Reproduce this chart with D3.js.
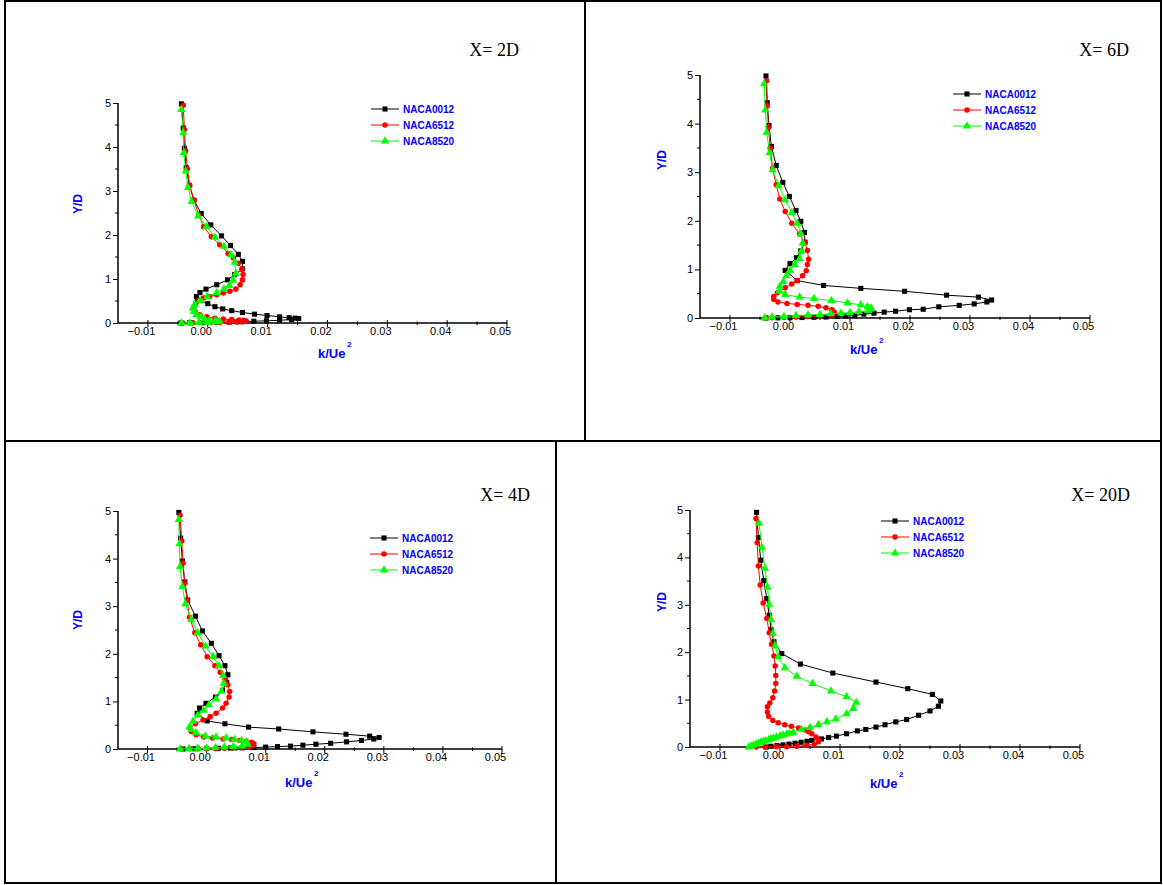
<!DOCTYPE html>
<html>
<head>
<meta charset="utf-8">
<script src="https://cdn.jsdelivr.net/npm/d3@7"></script>
<style>
body{margin:0;background:#fff;}
svg{display:block;}
</style>
</head>
<body>
<div id="canvas"></div>
<script>
// series names and axis ticks
var seriesNames = ["NACA0012", "NACA6512", "NACA8520"];
var xTicks = [-0.01, 0.00, 0.01, 0.02, 0.03, 0.04, 0.05];
var xMinorTicks = [-0.005, 0.005, 0.015, 0.025, 0.035, 0.045];
var yTicks = [0, 1, 2, 3, 4, 5];
var yMinorTicks = [0.5, 1.5, 2.5, 3.5, 4.5];
var titles = ["X= 2D", "X= 6D", "X= 4D", "X= 20D"];

// X = 2D  [k/Ue^2, Y/D]
var k2_0012 = [[-0.0045,0.00],[-0.0030,0.005],[-0.0008,0.01],[0.0015,0.015],[0.0036,0.02],[0.0056,0.03],[0.0077,0.04],[0.0098,0.05],[0.0120,0.06],[0.0140,0.08],[0.0152,0.10],[0.0146,0.11],[0.0136,0.12],[0.0120,0.14],[0.0099,0.17],[0.0078,0.20],[0.0058,0.24],[0.0040,0.28],[0.0025,0.32],[0.0012,0.37],[0.0000,0.44],[-0.0017,0.52],[-0.0019,0.60],[-0.0013,0.69],[-0.0003,0.77],[0.0015,0.87],[0.0033,0.98],[0.0045,1.10],[0.0058,1.23],[0.0058,1.40],[0.0051,1.56],[0.0038,1.76],[0.0023,1.98],[0.0005,2.23],[-0.0011,2.49],[-0.0023,2.79],[-0.0031,3.13],[-0.0036,3.53],[-0.0039,3.97],[-0.0041,4.43],[-0.0044,4.98]];
var k2_6512 = [[-0.0042,0.00],[-0.0025,0.003],[-0.0010,0.006],[0.0005,0.01],[0.0020,0.013],[0.0035,0.017],[0.0048,0.022],[0.0058,0.03],[0.0064,0.045],[0.0060,0.06],[0.0052,0.07],[0.0040,0.08],[0.0026,0.09],[0.0012,0.11],[-0.0002,0.14],[-0.0013,0.19],[-0.0021,0.26],[-0.0024,0.33],[-0.0023,0.38],[-0.0020,0.45],[-0.0015,0.51],[-0.0007,0.57],[0.0003,0.60],[0.0015,0.64],[0.0026,0.68],[0.0037,0.72],[0.0047,0.77],[0.0054,0.87],[0.0058,0.98],[0.0059,1.10],[0.0057,1.22],[0.0051,1.36],[0.0043,1.48],[0.0034,1.58],[0.0020,1.78],[0.0006,1.96],[-0.0007,2.19],[-0.0015,2.45],[-0.0023,2.79],[-0.0030,3.12],[-0.0034,3.50],[-0.0037,3.91],[-0.0039,4.40],[-0.0041,4.95]];
var k2_8520 = [[-0.0044,0.00],[-0.0030,0.005],[-0.0015,0.01],[0.0000,0.015],[0.0012,0.02],[0.0020,0.03],[0.0016,0.04],[0.0012,0.05],[0.0003,0.06],[-0.0005,0.09],[-0.0012,0.14],[-0.0019,0.19],[-0.0023,0.26],[-0.0025,0.34],[-0.0022,0.42],[-0.0013,0.51],[-0.0001,0.60],[0.0015,0.69],[0.0027,0.77],[0.0036,0.85],[0.0042,0.97],[0.0047,1.13],[0.0045,1.38],[0.0039,1.55],[0.0027,1.74],[0.0012,1.95],[-0.0002,2.19],[-0.0016,2.43],[-0.0027,2.76],[-0.0033,3.08],[-0.0037,3.45],[-0.0040,3.87],[-0.0041,4.32],[-0.0044,4.85]];

// X = 6D
var k6_0012 = [[-0.0040,0.00],[-0.0020,0.003],[0.0000,0.006],[0.0020,0.01],[0.0040,0.015],[0.0060,0.02],[0.0079,0.03],[0.0093,0.04],[0.0108,0.05],[0.0123,0.08],[0.0140,0.10],[0.0157,0.12],[0.0176,0.14],[0.0199,0.17],[0.0222,0.18],[0.0248,0.23],[0.0282,0.26],[0.0307,0.29],[0.0328,0.33],[0.0336,0.37],[0.0314,0.43],[0.0261,0.47],[0.0191,0.55],[0.0118,0.61],[0.0056,0.67],[0.0012,0.77],[-0.0008,0.98],[0.0000,1.12],[0.0011,1.24],[0.0018,1.38],[0.0025,1.56],[0.0024,1.76],[0.0018,1.99],[0.0010,2.21],[-0.0001,2.50],[-0.0012,2.79],[-0.0023,3.14],[-0.0031,3.53],[-0.0035,3.96],[-0.0038,4.43],[-0.0040,4.98]];
var k6_6512 = [[-0.0040,0.00],[-0.0030,0.005],[-0.0010,0.01],[0.0010,0.02],[0.0030,0.03],[0.0050,0.04],[0.0070,0.07],[0.0074,0.12],[0.0070,0.17],[0.0060,0.21],[0.0047,0.24],[0.0030,0.26],[0.0012,0.28],[-0.0005,0.30],[-0.0020,0.33],[-0.0027,0.38],[-0.0027,0.44],[-0.0021,0.52],[-0.0008,0.62],[0.0003,0.70],[0.0012,0.77],[0.0021,0.87],[0.0027,0.97],[0.0029,1.10],[0.0031,1.21],[0.0029,1.39],[0.0025,1.55],[0.0016,1.73],[0.0003,1.95],[-0.0008,2.19],[-0.0017,2.45],[-0.0023,2.74],[-0.0029,3.08],[-0.0033,3.49],[-0.0036,3.92],[-0.0038,4.36],[-0.0039,4.88]];
var k6_8520 = [[-0.0042,0.00],[-0.0030,0.02],[-0.0010,0.03],[0.0010,0.05],[0.0030,0.06],[0.0050,0.07],[0.0068,0.09],[0.0085,0.10],[0.0100,0.11],[0.0115,0.13],[0.0130,0.15],[0.0134,0.18],[0.0135,0.21],[0.0129,0.23],[0.0118,0.27],[0.0096,0.31],[0.0069,0.36],[0.0040,0.40],[0.0016,0.43],[-0.0008,0.48],[-0.0018,0.55],[-0.0017,0.65],[-0.0011,0.75],[-0.0006,0.87],[0.0000,0.98],[0.0008,1.10],[0.0016,1.22],[0.0019,1.37],[0.0021,1.54],[0.0018,1.73],[0.0012,1.95],[0.0003,2.17],[-0.0008,2.43],[-0.0019,2.72],[-0.0029,3.05],[-0.0034,3.40],[-0.0039,3.82],[-0.0041,4.28],[-0.0043,4.82]];

// X = 4D
var k4_0012 = [[-0.0040,0.00],[-0.0020,0.005],[0.0000,0.01],[0.0020,0.015],[0.0040,0.02],[0.0060,0.025],[0.0080,0.03],[0.0100,0.04],[0.0120,0.05],[0.0142,0.06],[0.0163,0.08],[0.0185,0.10],[0.0210,0.12],[0.0237,0.15],[0.0262,0.18],[0.0283,0.21],[0.0292,0.24],[0.0276,0.27],[0.0236,0.31],[0.0180,0.36],[0.0122,0.42],[0.0071,0.46],[0.0031,0.53],[0.0001,0.59],[-0.0016,0.75],[-0.0012,0.86],[-0.0001,0.96],[0.0015,1.09],[0.0027,1.23],[0.0034,1.40],[0.0036,1.56],[0.0031,1.75],[0.0021,1.96],[0.0008,2.22],[-0.0007,2.48],[-0.0019,2.79],[-0.0032,3.13],[-0.0037,3.51],[-0.0041,3.95],[-0.0044,4.43],[-0.0047,4.97]];
var k4_6512 = [[-0.0042,0.00],[-0.0028,0.003],[-0.0014,0.005],[0.0000,0.008],[0.0015,0.01],[0.0030,0.015],[0.0045,0.02],[0.0060,0.03],[0.0072,0.045],[0.0079,0.07],[0.0080,0.11],[0.0076,0.14],[0.0067,0.16],[0.0056,0.18],[0.0042,0.20],[0.0028,0.21],[0.0010,0.23],[-0.0005,0.25],[-0.0018,0.30],[-0.0026,0.37],[-0.0028,0.44],[-0.0019,0.53],[-0.0006,0.61],[0.0006,0.68],[0.0016,0.75],[0.0027,0.86],[0.0033,0.96],[0.0038,1.09],[0.0039,1.21],[0.0036,1.35],[0.0031,1.47],[0.0023,1.61],[0.0014,1.75],[0.0001,1.94],[-0.0010,2.19],[-0.0020,2.44],[-0.0029,2.77],[-0.0033,3.12],[-0.0037,3.48],[-0.0040,3.90],[-0.0042,4.37],[-0.0045,4.91]];
var k4_8520 = [[-0.0045,0.00],[-0.0030,0.01],[-0.0015,0.015],[0.0000,0.02],[0.0015,0.03],[0.0030,0.04],[0.0045,0.05],[0.0060,0.06],[0.0070,0.10],[0.0067,0.15],[0.0059,0.18],[0.0047,0.20],[0.0033,0.23],[0.0016,0.25],[-0.0002,0.27],[-0.0018,0.34],[-0.0026,0.41],[-0.0029,0.46],[-0.0023,0.58],[-0.0015,0.71],[-0.0005,0.81],[0.0004,0.93],[0.0016,1.05],[0.0025,1.21],[0.0029,1.38],[0.0028,1.54],[0.0021,1.75],[0.0011,1.94],[-0.0002,2.16],[-0.0015,2.44],[-0.0026,2.72],[-0.0036,3.05],[-0.0041,3.41],[-0.0045,3.83],[-0.0046,4.31],[-0.0047,4.82]];

// X = 20D
var k20_0012 = [[-0.0023,0.00],[-0.0015,0.015],[-0.0005,0.03],[0.0005,0.045],[0.0015,0.06],[0.0025,0.08],[0.0035,0.10],[0.0045,0.12],[0.0053,0.14],[0.0069,0.17],[0.0081,0.20],[0.0094,0.23],[0.0111,0.28],[0.0129,0.34],[0.0143,0.37],[0.0160,0.42],[0.0175,0.47],[0.0193,0.53],[0.0211,0.58],[0.0231,0.67],[0.0250,0.76],[0.0264,0.86],[0.0268,0.97],[0.0254,1.11],[0.0213,1.23],[0.0160,1.37],[0.0088,1.56],[0.0034,1.75],[0.0003,1.97],[-0.0010,2.22],[-0.0015,2.48],[-0.0018,2.78],[-0.0022,3.13],[-0.0027,3.51],[-0.0032,3.94],[-0.0036,4.42],[-0.0039,4.95]];
var k20_6512 = [[-0.0040,0.00],[-0.0025,0.002],[-0.0006,0.004],[0.0011,0.007],[0.0028,0.014],[0.0044,0.035],[0.0057,0.06],[0.0064,0.11],[0.0064,0.15],[0.0060,0.21],[0.0053,0.28],[0.0048,0.32],[0.0042,0.36],[0.0031,0.40],[0.0019,0.44],[0.0008,0.47],[-0.0003,0.51],[-0.0012,0.56],[-0.0019,0.65],[-0.0021,0.74],[-0.0021,0.85],[-0.0017,0.93],[-0.0012,1.04],[-0.0009,1.18],[-0.0007,1.34],[-0.0007,1.51],[-0.0008,1.71],[-0.0010,1.92],[-0.0014,2.17],[-0.0018,2.41],[-0.0022,2.71],[-0.0028,3.04],[-0.0033,3.42],[-0.0036,3.82],[-0.0038,4.31],[-0.0040,4.82]];
var k20_8520 = [[-0.0052,0.00],[-0.0048,0.02],[-0.0044,0.04],[-0.0040,0.06],[-0.0036,0.08],[-0.0032,0.10],[-0.0028,0.12],[-0.0024,0.13],[-0.0019,0.15],[-0.0015,0.17],[-0.0011,0.19],[-0.0006,0.21],[0.0000,0.23],[0.0005,0.25],[0.0011,0.27],[0.0016,0.29],[0.0022,0.31],[0.0036,0.37],[0.0050,0.41],[0.0064,0.47],[0.0078,0.53],[0.0093,0.59],[0.0111,0.70],[0.0122,0.81],[0.0127,0.94],[0.0111,1.06],[0.0085,1.18],[0.0054,1.34],[0.0028,1.49],[0.0008,1.67],[-0.0003,1.90],[-0.0008,2.13],[-0.0012,2.39],[-0.0015,2.69],[-0.0018,3.01],[-0.0021,3.37],[-0.0025,3.77],[-0.0030,4.21],[-0.0035,4.72]];

var colors = ["#000000", "#ff0000", "#00ff00"];
var markers = [d3.symbolSquare, d3.symbolCircle, d3.symbolTriangle];
var markerSize = [26, 24, 30];

// layout of the four cells (pixels)
var panels = [
	{data:[k2_0012,k2_6512,k2_8520], title:titles[0], tx:519, ty:56, x0:118, x1:507, y0:323, y1:103, ylx:78, yly:204, klx:318, kly:358, lgx:371, lgy:109},
	{data:[k6_0012,k6_6512,k6_8520], title:titles[1], tx:1129, ty:56, x0:700, x1:1090, y0:318, y1:75, ylx:662, yly:160, klx:850, kly:354, lgx:953, lgy:94},
	{data:[k4_0012,k4_6512,k4_8520], title:titles[2], tx:530, ty:501, x0:118, x1:502, y0:749, y1:511, ylx:78, yly:620, klx:285, kly:787, lgx:370, lgy:538},
	{data:[k20_0012,k20_6512,k20_8520], title:titles[3], tx:1130, ty:501, x0:690, x1:1080, y0:747, y1:510, ylx:662, yly:602, klx:870, kly:788, lgx:881, lgy:521}
];

var svg = d3.select("#canvas").append("svg")
	.attr("width", 1163)
	.attr("height", 885);

// table borders
var borders = svg.append("g").attr("stroke", "#000").attr("stroke-width", 2);
borders.append("rect").attr("x", 5).attr("y", 1).attr("width", 1156).attr("height", 882).attr("fill", "none");
borders.append("line").attr("x1", 5).attr("x2", 1161).attr("y1", 441).attr("y2", 441);
borders.append("line").attr("x1", 585).attr("x2", 585).attr("y1", 1).attr("y2", 441);
borders.append("line").attr("x1", 556).attr("x2", 556).attr("y1", 441).attr("y2", 883);

panels.forEach(function(p){
	var x = d3.scaleLinear().domain([-0.015, 0.05]).range([p.x0, p.x1]);
	var y = d3.scaleLinear().domain([0, 5]).range([p.y0, p.y1]);
	var g = svg.append("g");

	// x axis
	var xa = g.append("g").attr("transform", "translate(0," + p.y0 + ")")
		.call(d3.axisBottom(x).tickValues(xTicks).tickFormat(d3.format(".2f")).tickSize(0).tickPadding(0));
	xa.select(".domain").remove();
	xa.selectAll(".tick text").attr("dy", "1.05em").attr("dx", -7)
		.style("font-family", "Arial, 'Liberation Sans', sans-serif").style("font-size", "11px").attr("fill", "#000");
	g.append("line").attr("x1", p.x0).attr("x2", p.x1).attr("y1", p.y0).attr("y2", p.y0)
		.attr("stroke", "#000").attr("stroke-width", 1.5);
	g.selectAll(".xmaj").data(xTicks).enter().append("line")
		.attr("x1", function(d){ return x(d); }).attr("x2", function(d){ return x(d); })
		.attr("y1", p.y0 - 3).attr("y2", p.y0 + 4)
		.attr("stroke", "#000").attr("stroke-width", 1);
	g.selectAll(".xmin").data(xMinorTicks).enter().append("line")
		.attr("x1", function(d){ return x(d); }).attr("x2", function(d){ return x(d); })
		.attr("y1", p.y0 - 1.5).attr("y2", p.y0 + 2)
		.attr("stroke", "#000").attr("stroke-width", 1);

	// y axis
	var ya = g.append("g").attr("transform", "translate(" + p.x0 + ",0)")
		.call(d3.axisLeft(y).tickValues(yTicks).tickFormat(d3.format("d")).tickSize(5).tickPadding(2));
	ya.select(".domain").remove();
	ya.selectAll(".tick line").attr("stroke", "#000");
	ya.selectAll(".tick text")
		.style("font-family", "Arial, 'Liberation Sans', sans-serif").style("font-size", "11px").attr("fill", "#000");
	g.append("line").attr("x1", p.x0).attr("x2", p.x0).attr("y1", p.y0).attr("y2", p.y1)
		.attr("stroke", "#000").attr("stroke-width", 1.5);
	g.selectAll(".ymin").data(yMinorTicks).enter().append("line")
		.attr("x1", p.x0 - 3).attr("x2", p.x0)
		.attr("y1", function(d){ return y(d); }).attr("y2", function(d){ return y(d); })
		.attr("stroke", "#000").attr("stroke-width", 1);

	// axis titles
	g.append("text").attr("transform", "translate(" + p.ylx + "," + p.yly + ") rotate(-90)")
		.attr("text-anchor", "middle").attr("dy", "0.35em")
		.style("font-family", "Arial, 'Liberation Sans', sans-serif").style("font-size", "12px").style("font-weight", "bold")
		.attr("fill", "#0000ff").text("Y/D");
	g.append("text").attr("x", p.klx).attr("y", p.kly)
		.style("font-family", "Arial, 'Liberation Sans', sans-serif").style("font-size", "13px").style("font-weight", "bold")
		.attr("fill", "#0000ff").text("k/Ue");
	g.append("text").attr("x", p.klx + 29).attr("y", p.kly - 11)
		.style("font-family", "Arial, 'Liberation Sans', sans-serif").style("font-size", "8px").style("font-weight", "bold")
		.attr("fill", "#0000ff").text("2");

	// panel title
	g.append("text").attr("x", p.tx).attr("y", p.ty).attr("text-anchor", "end")
		.style("font-family", "'Liberation Serif', 'Times New Roman', serif").style("font-size", "18px")
		.attr("fill", "#000").text(p.title);

	// series
	var line = d3.line().x(function(d){ return x(d[0]); }).y(function(d){ return y(d[1]); });
	p.data.forEach(function(s, i){
		g.append("path").datum(s).attr("d", line)
			.attr("fill", "none").attr("stroke", colors[i]).attr("stroke-width", 1);
		g.selectAll(".m" + i).data(s).enter().append("path")
			.attr("d", d3.symbol().type(markers[i]).size(markerSize[i]))
			.attr("transform", function(d){ return "translate(" + x(d[0]) + "," + y(d[1]) + ")"; })
			.attr("fill", colors[i]);
	});

	// legend
	seriesNames.forEach(function(name, i){
		var ly = p.lgy + i * 16;
		g.append("line").attr("x1", p.lgx).attr("x2", p.lgx + 28).attr("y1", ly).attr("y2", ly)
			.attr("stroke", colors[i]).attr("stroke-width", 1);
		g.append("path").attr("d", d3.symbol().type(markers[i]).size(markerSize[i]))
			.attr("transform", "translate(" + (p.lgx + 14) + "," + ly + ")").attr("fill", colors[i]);
		g.append("text").attr("x", p.lgx + 32).attr("y", ly).attr("dy", "0.35em")
			.style("font-family", "Arial, 'Liberation Sans', sans-serif").style("font-size", "10px").style("font-weight", "bold")
			.attr("fill", "#0000ff").text(name);
	});
});
</script>
</body>
</html>
